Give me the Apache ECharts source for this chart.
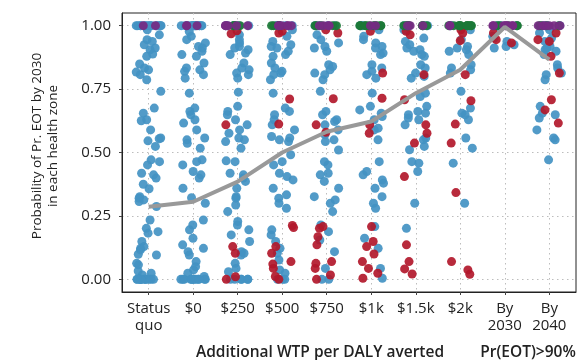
<!DOCTYPE html>
<html>
<head>
<meta charset="utf-8">
<script src="https://cdn.jsdelivr.net/npm/echarts@6/dist/echarts.min.js"></script>
<style>
html,body{margin:0;padding:0;background:#fff;}
#chart{width:578px;height:360px;}
</style>
</head>
<body>
<div id="chart"></div>
<script>
const categories = ['Status\nquo', '$0', '$250', '$500', '$750', '$1k', '$1.5k', '$2k', 'By\n2030', 'By\n2040'];
const yTicks = [0, 0.25, 0.5, 0.75, 1];
const meanLine = [0.286, 0.306, 0.385, 0.50, 0.582, 0.622, 0.734, 0.826, 0.995, 0.866];

const blueVals = [
  [1,1,1,1,1,1,1,1,1,1,1,1,1,1,1, 0.984,0.964,0.945,0.938,0.925,0.912,0.905,0.888,0.879,0.849,0.833,0.826,0.817,0.807,0.787,0.741,0.675,0.655,0.629,0.625,0.589,0.557,0.554,0.546,0.524,0.471,0.464,0.451,0.418,0.412,0.399,0.375,0.357,0.326,0.320,0.313,0.307,0.287,0.234,0.201,0.188,0.182,0.149,0.129,0.122,0.116,0.099,0.096,0.063,0.057,0.033,0.024,0.017,0,0,0,0,0,0,0,0,0,0,0,0],
  [1,1,1,1,1,1,1,1,1,1,1,1,1,1,1, 0.977,0.958,0.945,0.932,0.918,0.912,0.899,0.886,0.879,0.853,0.833,0.826,0.820,0.807,0.793,0.734,0.675,0.662,0.649,0.629,0.616,0.589,0.557,0.550,0.536,0.517,0.471,0.464,0.451,0.425,0.412,0.399,0.359,0.322,0.300,0.234,0.214,0.195,0.162,0.136,0.122,0.109,0.096,0.070,0.050,0.037,0.024,0.011,0,0,0,0,0,0,0,0,0,0,0,0],
  [1,1,1,1,1,1, 0.964,0.945,0.932,0.918,0.912,0.905,0.892,0.886,0.853,0.833,0.826,0.813,0.807,0.793,0.738,0.682,0.662,0.649,0.629,0.609,0.589,0.576,0.557,0.550,0.543,0.517,0.467,0.464,0.418,0.412,0.399,0.386,0.359,0.326,0.320,0.293,0.267,0.228,0.214,0.195,0.175,0.149,0.109,0.103,0.096,0.063,0.043,0.030,0,0,0,0,0,0],
  [1,1,1,1,1, 0.984,0.958,0.938,0.925,0.918,0.912,0.899,0.886,0.879,0.853,0.833,0.820,0.813,0.807,0.787,0.734,0.675,0.662,0.649,0.629,0.609,0.589,0.563,0.557,0.550,0.543,0.491,0.464,0.451,0.418,0.405,0.392,0.359,0.333,0.320,0.300,0.280,0.195,0.175,0.149,0.122,0.103,0.076,0.037,0.024,0,0,0],
  [1,1,1,1, 0.964,0.945,0.932,0.918,0.912,0.899,0.846,0.839,0.826,0.813,0.807,0.787,0.741,0.662,0.649,0.629,0.622,0.609,0.589,0.570,0.550,0.543,0.510,0.464,0.451,0.418,0.412,0.386,0.359,0.326,0.313,0.300,0.267,0.214,0.188,0.155,0.109,0.043,0,0],
  [1,1,1, 0.984,0.958,0.945,0.932,0.918,0.912,0.892,0.886,0.846,0.833,0.820,0.807,0.793,0.734,0.682,0.668,0.655,0.642,0.629,0.596,0.589,0.550,0.464,0.425,0.412,0.392,0.379,0.359,0.326,0.300,0.280,0.208,0.162,0.122,0.043,0.004],
  [1,1,1, 0.984,0.951,0.938,0.925,0.912,0.905,0.899,0.886,0.879,0.846,0.833,0.813,0.800,0.793,0.734,0.721,0.682,0.662,0.655,0.649,0.636,0.629,0.609,0.557,0.550,0.524,0.511,0.464,0.458,0.425,0.300,0.201],
  [1,1, 0.984,0.945,0.918,0.912,0.905,0.899,0.886,0.846,0.833,0.826,0.813,0.741,0.675,0.655,0.649,0.629,0.557,0.517,0.458,0.300],
  [1,1,1, 0.997,0.958,0.951,0.938,0.925,0.918,0.912],
  [1,1,1, 0.984,0.971,0.951,0.938,0.918,0.912,0.905,0.899,0.886,0.846,0.833,0.813,0.807,0.787,0.682,0.655,0.649,0.636,0.589,0.557,0.550,0.471]
];
const redVals = [
  [],
  [],
  [0.980,0.968,0.609,0.129,0.103,0.010,0],
  [0.978,0.971,0.711,0.612,0.212,0.204,0.129,0.103,0.070,0.060,0.043,0.011,0],
  [0.984,0.971,0.712,0.609,0.580,0.208,0.201,0.168,0.136,0.070,0.063,0.043,0.017,0],
  [0.978,0.813,0.714,0.609,0.576,0.208,0.149,0.129,0.100,0.070,0.043,0.024,0.004],
  [0.978,0.964,0.807,0.708,0.609,0.576,0.537,0.405,0.136,0.070,0.041,0.021],
  [0.984,0.971,0.941,0.807,0.704,0.612,0.537,0.342,0.070,0.037,0.020],
  [0.971,0.945,0.932],
  [0.971,0.945,0.938,0.879,0.813,0.708,0.668,0.616]
];
const greenVals = [
  [],
  [],
  [1,1,1,1],
  [1,1,1,1],
  [1,1,1,1,1],
  [1,1,1,1,1,1,1,1,1,1],
  [1,1,1,1,1,1,1,1],
  [1,1,1,1,1,1,1,1,1,1,1,1],
  [1,1,1,1,1],
  [1,1,1,1]
];
const purpleVals = [
  [1,1],
  [1,1,1],
  [1,1,1,1,1],
  [1,1,1,1,1,1],
  [1,1,1,1],
  [1,1],
  [1,1,1],
  [1,1],
  [1,1,1,1,1,1,1,1],
  [1,1,1,1,1,1]
];

// deterministic horizontal jitter (layout only, not data)
function jitter(i, c, k) {
  const s = Math.sin(i * 12.9898 + c * 78.233 + k * 37.719) * 43758.5453;
  const f = s - Math.floor(s);
  return (f - 0.5) * 0.56;
}
function points(vals, k) {
  const out = [];
  vals.forEach((arr, c) => {
    arr.forEach((v, i) => out.push([c + 1 + jitter(i, c, k), v]));
  });
  return out;
}

const chart = echarts.init(document.getElementById('chart'));
const font = '"Open Sans", "Noto Sans", sans-serif';
const textColor = '#222';
const xVals = categories.map((_, i) => i + 1);
const dotted = { show: true, lineStyle: { color: '#bdbdbd', width: 1, type: [1.5, 3.5] } };
const sym = 9;

chart.setOption({
  animation: false,
  textStyle: { fontFamily: font },
  grid: { left: 122, right: 2, top: 13, bottom: 68, show: true, borderColor: '#222', borderWidth: 1 },
  xAxis: {
    type: 'value', min: 0.4, max: 10.6,
    axisLine: { show: true, onZero: false, lineStyle: { color: '#222' } },
    axisTick: { show: true, length: 3, customValues: xVals, lineStyle: { color: '#444' } },
    axisLabel: {
      customValues: xVals, margin: 8, color: textColor, fontSize: 15, lineHeight: 17, fontFamily: font,
      formatter: v => categories[Math.round(v) - 1] || ''
    },
    splitLine: dotted
  },
  yAxis: {
    type: 'value', min: -0.05, max: 1.05,
    axisLine: { show: true, onZero: false, lineStyle: { color: '#222' } },
    axisTick: { show: true, length: 3, customValues: yTicks, lineStyle: { color: '#444' } },
    axisLabel: {
      customValues: yTicks, margin: 11, color: textColor, fontSize: 15, fontFamily: font,
      formatter: v => v.toFixed(2)
    },
    splitLine: dotted
  },
  graphic: [
    { type: 'text', x: 45, y: 146, rotation: Math.PI / 2,
      style: { text: 'Probability of Pr. EOT by 2030\nin each health zone', fill: textColor,
        font: '500 13.5px ' + font, textAlign: 'center', textVerticalAlign: 'middle', lineHeight: 16 } },
    { type: 'text', x: 320, y: 353,
      style: { text: 'Additional WTP per DALY averted', fill: textColor,
        font: '600 15.5px ' + font, textAlign: 'center', textVerticalAlign: 'middle' } },
    { type: 'text', x: 528, y: 353,
      style: { text: 'Pr(EOT)>90%', fill: textColor,
        font: '600 15.5px ' + font, textAlign: 'center', textVerticalAlign: 'middle' } }
  ],
  series: [
    { type: 'scatter', data: points(blueVals, 0), symbolSize: sym, itemStyle: { color: '#4393c3', opacity: 0.92 }, z: 2 },
    { type: 'scatter', data: points(redVals, 1), symbolSize: sym, itemStyle: { color: '#b2182b', opacity: 0.92 }, z: 3 },
    { type: 'scatter', data: points(greenVals, 2), symbolSize: sym, itemStyle: { color: '#1b7837', opacity: 0.92 }, z: 4 },
    { type: 'scatter', data: points(purpleVals, 3), symbolSize: sym, itemStyle: { color: '#762a83', opacity: 0.92 }, z: 5 },
    { type: 'line', data: meanLine.map((v, i) => [i + 1, v]), showSymbol: false, symbol: 'none',
      lineStyle: { color: '#999', width: 4 }, z: 6, silent: true }
  ]
});
</script>
</body>
</html>
